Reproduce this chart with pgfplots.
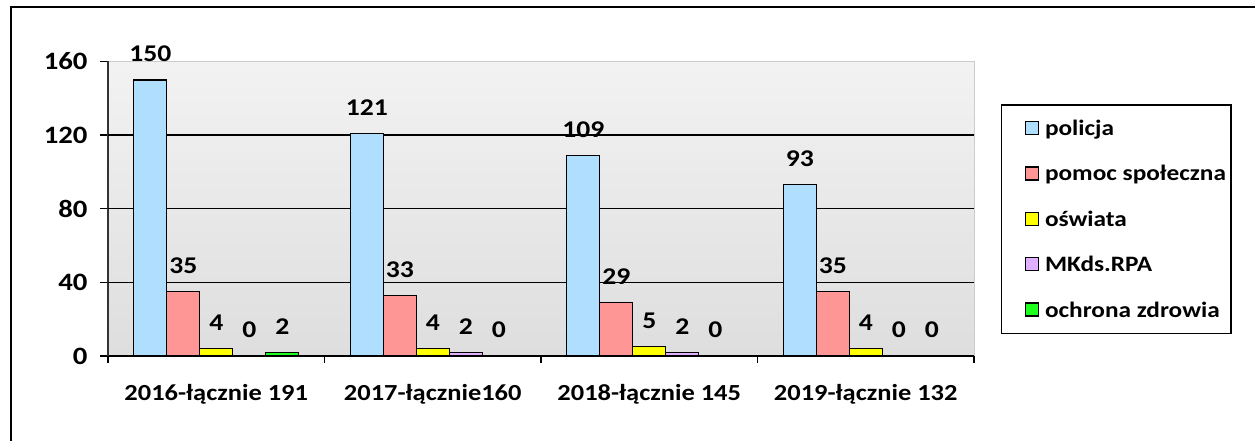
\documentclass[border=0pt]{standalone}
\usepackage{fontspec}
\setmainfont{Carlito}[FakeStretch=1.15]
\usepackage{pgfplots}
\pgfplotsset{compat=1.18}

\definecolor{cPol}{HTML}{B0DEFF}
\definecolor{cPom}{HTML}{FF9696}
\definecolor{cOsw}{HTML}{FFFF00}
\definecolor{cMk}{HTML}{DFB0FF}
\definecolor{cZdr}{HTML}{1EFF1E}

\begin{document}
\begin{tikzpicture}
\useasboundingbox (0,0) rectangle (1255pt,441pt);
\clip (0,0) rectangle (1255pt,441pt);
% outer frame
\draw[line width=2pt] (11pt,-10pt) -- (11pt,433.5pt) -- (1270pt,433.5pt);

\begin{axis}[
    at={(108pt,85pt)}, anchor=south west,
    scale only axis,
    width=866pt, height=294.5pt,
    ybar=0pt, bar width=33pt,
    xmin=0.5, xmax=4.5,
    ymin=0, ymax=160,
    xtick={1,2,3,4},
    xticklabels={2016-łącznie 191, 2017-łącznie160, 2018-łącznie 145, 2019-łącznie 132},
    minor xtick={0.5,1.5,2.5,3.5,4.5},
    major x tick style={draw=none},
    minor tick length=7pt,
    ytick={0,40,80,120,160},
    major tick length=8pt,
    tick align=outside,
    tick style={black, line width=1.3pt},
    extra y ticks={40,80,120},
    extra y tick labels={},
    extra y tick style={ymajorgrids=true, major tick length=0pt,
        grid style={black, line width=1.3pt}},
    axis x line*=bottom, axis y line*=left,
    x axis line style={black, line width=1.5pt, -},
    y axis line style={black!80, line width=1.5pt, -},
    axis background/.style={top color=black!5, bottom color=black!13, draw=black!20, line width=1pt},
    /pgf/number format/assume math mode=true,
    xticklabel style={font=\bfseries\fontsize{23}{23}\selectfont, yshift=-17pt},
    yticklabel style={font=\bfseries\fontsize{25}{25}\selectfont, xshift=-9pt},
    nodes near coords,
    every node near coord/.append style={font=\bfseries\fontsize{24}{24}\selectfont, anchor=base, inner sep=0pt, yshift=18pt},
    legend style={at={(1.031,0.855)}, anchor=north west, draw=black, line width=1.5pt,
        font=\bfseries\fontsize{22}{22}\selectfont, row sep=24.5pt,
        inner xsep=3pt, inner ysep=13pt,
        /tikz/every odd column/.append style={column sep=4pt}},
    legend cell align=left,
    legend image code/.code={\path (-20pt,0pt); \draw[#1, draw=black, line width=1.5pt] (0pt,-6pt) rectangle (13pt,7pt);},
]
\addplot[fill=cPol, draw=black, line width=1.3pt] coordinates {(1,150) (2,121) (3,109) (4,93)};
\addplot[fill=cPom, draw=black, line width=1.3pt] coordinates {(1,35) (2,33) (3,29) (4,35)};
\addplot[fill=cOsw, draw=black, line width=1.3pt] coordinates {(1,4) (2,4) (3,5) (4,4)};
\addplot[fill=cMk, draw=black, line width=1.3pt] coordinates {(1,0) (2,2) (3,2) (4,0)};
\addplot[fill=cZdr, draw=black, line width=1.3pt] coordinates {(1,2) (2,0) (3,0) (4,0)};
\legend{policja, pomoc społeczna, oświata, MKds.RPA, ochrona zdrowia}
\end{axis}
\end{tikzpicture}
\end{document}
